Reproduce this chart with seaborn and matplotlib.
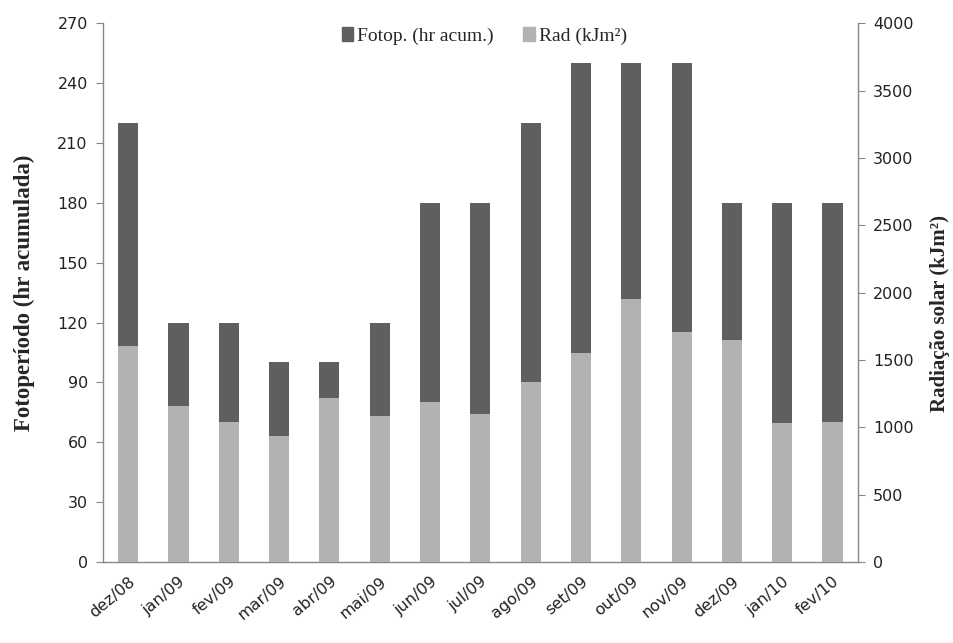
import matplotlib.pyplot as plt
import seaborn as sns
import pandas as pd
from matplotlib.patches import Patch

meses = ['dez/08', 'jan/09', 'fev/09', 'mar/09', 'abr/09', 'mai/09', 'jun/09', 'jul/09',
         'ago/09', 'set/09', 'out/09', 'nov/09', 'dez/09', 'jan/10', 'fev/10']
fotoperiodo = [220, 120, 120, 100, 100, 120, 180, 180, 220, 250, 250, 250, 180, 180, 180]
radiacao = [1600, 1155, 1040, 935, 1215, 1080, 1185, 1095, 1335, 1555, 1955, 1705, 1645, 1030, 1040]

df = pd.DataFrame({'mes': meses, 'fotop': fotoperiodo, 'rad': radiacao})

sns.set_style('white')
plt.rcParams['font.family'] = ['DejaVu Sans']

cor_escura = '#5f5f5f'
cor_clara = '#b2b2b2'
cor_eixo = '#868686'

fig = plt.figure(figsize=(9.54, 6.43), dpi=100)
ax = fig.add_axes([0.108, 0.126, 0.791, 0.838])
ax2 = ax.twinx()

# barras escuras (fotoperíodo) atrás, claras (radiação) na frente
sns.barplot(data=df, x='mes', y='fotop', color=cor_escura, width=0.4,
            saturation=1, linewidth=0, ax=ax)
sns.barplot(data=df, x='mes', y='rad', color=cor_clara, width=0.4,
            saturation=1, linewidth=0, ax=ax2)

ax.set_ylim(0, 270)
ax.set_yticks(range(0, 271, 30))
ax2.set_ylim(0, 4000)
ax2.set_yticks(range(0, 4001, 500))
ax.set_xlim(-0.5, len(meses) - 0.5)

for a in (ax, ax2):
    for s in a.spines.values():
        s.set_visible(False)
    a.tick_params(length=5, color=cor_eixo, labelsize=11.5, labelcolor='#222222')
ax.spines['left'].set_visible(True)
ax.spines['bottom'].set_visible(True)
ax2.spines['right'].set_visible(True)
for s in (ax.spines['left'], ax.spines['bottom'], ax2.spines['right']):
    s.set_color(cor_eixo)
    s.set_linewidth(1)

ax.tick_params(axis='y', left=True, pad=6)
ax2.tick_params(axis='y', right=True, pad=6)
ax.tick_params(axis='x', bottom=False)
ax.set_xticks(range(len(meses)))
ax.set_xticklabels(meses, rotation=40, ha='right', rotation_mode='anchor', fontsize=11.5)

ax.set_xlabel('')
ax.set_ylabel('Fotoperíodo (hr acumulada)', family='Liberation Serif',
              fontweight='bold', fontsize=16.5, labelpad=16)
ax2.set_ylabel('Radiação solar (kJm²)', family='Liberation Serif',
               fontweight='bold', fontsize=15, labelpad=12)
ax2.yaxis.label.set_y(0.462)

handles = [Patch(color=cor_escura), Patch(color=cor_clara)]
ax2.legend(handles, ['Fotop. (hr acum.)', 'Rad (kJm²)'], loc='upper center',
           bbox_to_anchor=(0.505, 1.025), ncol=2, frameon=False, handlelength=0.6,
           handleheight=0.7, handletextpad=0.2, columnspacing=1.5,
           prop={'family': 'Liberation Serif', 'size': 14})

plt.savefig('out.png', dpi=100)
plt.close()
